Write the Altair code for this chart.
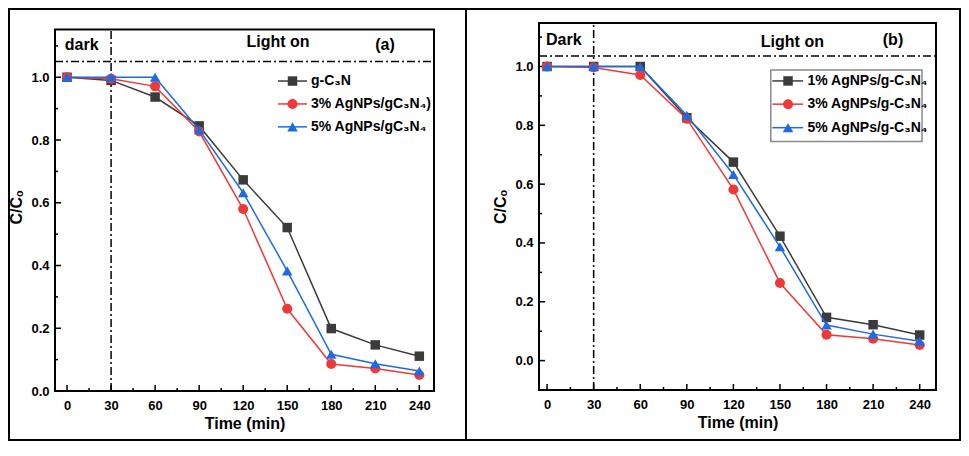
import altair as alt
import pandas as pd

# ---------------- data ----------------
times = [0, 30, 60, 90, 120, 150, 180, 210, 240]

# panel (a)
a_gc3n = [1.0, 0.99, 0.937, 0.845, 0.673, 0.521, 0.199, 0.147, 0.111]
a_ag3 = [1.0, 0.995, 0.971, 0.827, 0.580, 0.262, 0.086, 0.072, 0.051]
a_ag5 = [1.0, 1.0, 1.0, 0.833, 0.632, 0.383, 0.117, 0.087, 0.064]
names_a = ["g-C\u2083N", "3% AgNPs/gC\u2083N\u2084)", "5% AgNPs/gC\u2083N\u2084"]

# panel (b)
b_ag1 = [1.0, 1.0, 1.0, 0.826, 0.675, 0.423, 0.147, 0.122, 0.087]
b_ag3 = [1.0, 0.997, 0.971, 0.822, 0.582, 0.264, 0.088, 0.074, 0.053]
b_ag5 = [1.0, 1.0, 1.0, 0.834, 0.633, 0.387, 0.121, 0.090, 0.066]
names_b = ["1% AgNPs/g-C\u2083N\u2084", "3% AgNPs/g-C\u2083N\u2084", "5% AgNPs/g-C\u2083N\u2084"]

colors = ["#3b3b3b", "#ef3838", "#1d6be3"]
shapes = ["square", "circle", "triangle-up"]
sizes = [90, 100, 110]

x_major = [0, 30, 60, 90, 120, 150, 180, 210, 240]
x_minor = [15, 45, 75, 105, 135, 165, 195, 225]
y_major = [0.0, 0.2, 0.4, 0.6, 0.8, 1.0]
y_minor = [0.1, 0.3, 0.5, 0.7, 0.9, 1.1]

FONT = "Liberation Sans"


def panel(series, names, xdom, ydom, W, H, frame_top, dash_y, notes, leg_rows,
          leg_line, leg_mark, leg_text, leg_box=None, outer=False):
    xsc = alt.Scale(domain=xdom, nice=False, zero=False)
    ysc = alt.Scale(domain=ydom, nice=False, zero=False)
    xax = alt.Axis(values=x_major, title="Time (min)", ticks=False, tickSize=0,
                   domain=False, grid=False, labelPadding=8, titlePadding=3,
                   labelFlush=False)
    yax = alt.Axis(values=y_major, format=".1f", title="C/C\u2092", ticks=False,
                   tickSize=0, domain=False, grid=False, labelPadding=6,
                   titlePadding=6)

    def X(f):
        return alt.X(f + ":Q", scale=xsc, axis=xax)

    def Y(f):
        return alt.Y(f + ":Q", scale=ysc, axis=yax)

    one = pd.DataFrame({"a": [0]})
    layers = []

    if outer:
        layers.append(alt.Chart(one).mark_rect(fillOpacity=0, stroke="black", strokeWidth=2).encode(
            x=alt.value(-46), x2=alt.value(905), y=alt.value(-14), y2=alt.value(417)))
        layers.append(alt.Chart(one).mark_rule(color="black", strokeWidth=2).encode(
            x=alt.value(411), y=alt.value(-14), y2=alt.value(417)))

    # legend box
    if leg_box is not None:
        bx = pd.DataFrame({"x": [leg_box[0]], "x2": [leg_box[1]], "y": [leg_box[2]], "y2": [leg_box[3]]})
        layers.append(alt.Chart(bx).mark_rect(fill="white", stroke="#8a8a8a", strokeWidth=1.5).encode(
            x=X("x"), x2="x2:Q", y=Y("y"), y2="y2:Q"))

    # dash-dot guide lines
    vdf = pd.DataFrame({"t": [30]})
    layers.append(alt.Chart(vdf).mark_rule(color="black", strokeWidth=1.5, strokeDash=[8, 3, 2, 3]).encode(
        x=X("t"), y=alt.value(H), y2=alt.value(frame_top)))
    hdf = pd.DataFrame({"v": [dash_y]})
    layers.append(alt.Chart(hdf).mark_rule(color="black", strokeWidth=1.5, strokeDash=[8, 3, 2, 3]).encode(
        y=Y("v"), x=alt.value(0), x2=alt.value(W)))

    # inward ticks
    layers.append(alt.Chart(pd.DataFrame({"t": x_major})).mark_rule(color="black", strokeWidth=1.5).encode(
        x=X("t"), y=alt.value(H), y2=alt.value(H - 6)))
    layers.append(alt.Chart(pd.DataFrame({"t": x_minor})).mark_rule(color="black", strokeWidth=1.5).encode(
        x=X("t"), y=alt.value(H), y2=alt.value(H - 3)))
    layers.append(alt.Chart(pd.DataFrame({"v": y_major})).mark_rule(color="black", strokeWidth=1.5).encode(
        y=Y("v"), x=alt.value(0), x2=alt.value(6)))
    layers.append(alt.Chart(pd.DataFrame({"v": y_minor})).mark_rule(color="black", strokeWidth=1.5).encode(
        y=Y("v"), x=alt.value(0), x2=alt.value(3)))

    # series
    for vals, c, sh, sz in zip(series, colors, shapes, sizes):
        df = pd.DataFrame({"t": times, "v": vals})
        layers.append(alt.Chart(df).mark_line(color=c, strokeWidth=1.5).encode(x=X("t"), y=Y("v")))
        layers.append(alt.Chart(df).mark_point(shape=sh, filled=True, size=sz, color=c, opacity=1).encode(
            x=X("t"), y=Y("v")))

    # legend entries
    for name, c, sh, sz, ly in zip(names, colors, shapes, sizes, leg_rows):
        ld = pd.DataFrame({"x": [leg_line[0]], "x2": [leg_line[1]], "y": [ly]})
        layers.append(alt.Chart(ld).mark_rule(color=c, strokeWidth=1.5).encode(x=X("x"), x2="x2:Q", y=Y("y")))
        pd_ = pd.DataFrame({"x": [leg_mark], "y": [ly]})
        layers.append(alt.Chart(pd_).mark_point(shape=sh, filled=True, size=sz, color=c, opacity=1).encode(
            x=X("x"), y=Y("y")))
        td = pd.DataFrame({"x": [leg_text], "y": [ly], "s": [name]})
        layers.append(alt.Chart(td).mark_text(align="left", baseline="middle", font=FONT, fontSize=14,
                                              fontWeight="bold", color="black").encode(
            x=X("x"), y=Y("y"), text="s:N"))

    # annotations
    ndf = pd.DataFrame({"x": [n[0] for n in notes], "y": [n[1] for n in notes], "s": [n[2] for n in notes]})
    layers.append(alt.Chart(ndf).mark_text(align="center", baseline="middle", font=FONT, fontSize=16,
                                           fontWeight="bold", color="black").encode(
        x=X("x"), y=Y("y"), text="s:N"))

    # plot frame
    layers.append(alt.Chart(one).mark_rect(fillOpacity=0, stroke="black", strokeWidth=2).encode(
        x=alt.value(0), x2=alt.value(W), y=alt.value(frame_top), y2=alt.value(H)))

    return alt.layer(*layers).properties(width=W, height=H)


left = panel(
    [a_gc3n, a_ag3, a_ag5], names_a,
    xdom=[-8.2, 250], ydom=[0, 1.173], W=379, H=368, frame_top=6.5, dash_y=1.05,
    notes=[(10, 1.103, "dark"), (143.7, 1.112, "Light on"), (216.6, 1.103, "(a)")],
    leg_rows=[0.988, 0.915, 0.842], leg_line=(143.7, 163.5), leg_mark=153.6, leg_text=166.2,
    outer=True,
)

right = panel(
    [b_ag1, b_ag3, b_ag5], names_b,
    xdom=[-5.2, 250.5], ydom=[-0.1, 1.148], W=397, H=367, frame_top=0, dash_y=1.036,
    notes=[(10.8, 1.09, "Dark"), (158, 1.084, "Light on"), (222.8, 1.09, "(b)")],
    leg_rows=[0.951, 0.872, 0.792], leg_line=(145.1, 164.9), leg_mark=155.2, leg_text=167.7,
    leg_box=(144.1, 241.5, 0.988, 0.745),
)

chart = alt.hconcat(left, right, spacing=105, bounds="flush").properties(
    padding=0, background="white"
).configure_view(stroke=None).configure_axis(
    labelFont=FONT, labelFontSize=13, labelFontWeight="bold", labelColor="black",
    titleFont=FONT, titleFontSize=16, titleFontWeight="bold", titleColor="black",
)

chart.save("out.html", embed_options={"renderer": "svg", "actions": False})
